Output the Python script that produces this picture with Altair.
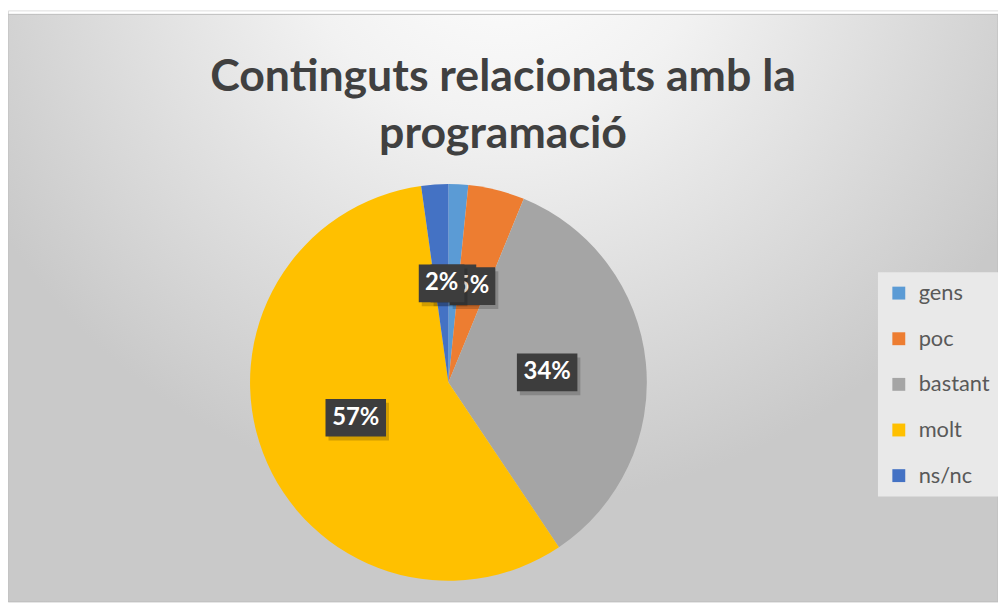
import math
import altair as alt
import pandas as pd

categories = ["gens", "poc", "bastant", "molt", "ns/nc"]
values = [1.6, 4.6, 34.4, 57.2, 2.2]
labels = ["2%", "5%", "34%", "57%", "2%"]
colors = ["#5B9BD5", "#ED7D31", "#A5A5A5", "#FFC000", "#4472C4"]
title_lines = ["Continguts relacionats amb la", "programació"]

df = pd.DataFrame({
    "cat": categories,
    "value": values,
    "label": labels,
    "idx": list(range(len(categories))),
})
total = float(sum(values))

W, H = 998, 596
CX, CY = 444, 375
R = 200
LR = 100
BOX_H = 38

theta_scale = alt.Scale(domain=[0, total], range=[0, 2 * math.pi])

base = alt.Chart(df).transform_stack(
    stack="value", as_=["v0", "v1"], groupby=[],
    sort=[alt.SortField("idx", order="ascending")]
).transform_calculate(
    mid="(datum.v0 + datum.v1) / 2",
).transform_calculate(
    ang=f"2 * PI * datum.mid / {total}",
).transform_calculate(
    px=f"{CX} + {LR} * sin(datum.ang)",
    py=f"{CY} - {LR} * cos(datum.ang)",
)

bg = alt.Chart(pd.DataFrame({"k": [0]})).mark_rect(
    fill=alt.RadialGradient(
        gradient="radial",
        stops=[alt.GradientStop(color="#ffffff", offset=0),
               alt.GradientStop(color="#f2f2f2", offset=0.35),
               alt.GradientStop(color="#c9c9c9", offset=1)],
        x1=0.5, y1=0.1, r1=0, x2=0.5, y2=0.1, r2=0.6),
    stroke="#bdbdbd", strokeWidth=1,
).encode(x=alt.value(0), x2=alt.value(W), y=alt.value(4), y2=alt.value(H))

pie = base.mark_arc(outerRadius=R).encode(
    theta=alt.Theta("v0:Q", scale=theta_scale),
    theta2="v1:Q",
    color=alt.Color(
        "cat:N",
        scale=alt.Scale(domain=categories, range=colors),
        legend=alt.Legend(
            title=None, orient="none", legendX=877, legendY=264,
            symbolType="square", symbolSize=169, symbolStrokeWidth=0,
            labelFontSize=22, labelFont="Lato", labelColor="#595959",
            rowPadding=24, fillColor="#e9e9e9", padding=10, labelOffset=9,
        ),
    ),
    order=alt.Order("idx:Q"),
    x=alt.value(CX), y=alt.value(CY),
)

layers = [bg, pie]
for i, lab in enumerate(labels):
    sub = base.transform_filter(f"datum.idx == {i}")
    ratio = (16 + 15 * len(lab)) / BOX_H
    shape = f"M{-ratio:.3f},-1L{ratio:.3f},-1L{ratio:.3f},1L{-ratio:.3f},1Z"
    shadow = sub.mark_point(
        shape=shape, size=BOX_H * BOX_H, filled=True, color="#000000",
        opacity=0.18, strokeWidth=0, xOffset=3, yOffset=4,
    ).encode(x=alt.X("px:Q", scale=None), y=alt.Y("py:Q", scale=None))
    box = sub.mark_point(
        shape=shape, size=BOX_H * BOX_H, filled=True, color="#3d3d3d",
        opacity=1, strokeWidth=0,
    ).encode(x=alt.X("px:Q", scale=None), y=alt.Y("py:Q", scale=None))
    txt = sub.mark_text(
        radius=LR, font="Lato", fontSize=24, fontWeight="bold", color="white",
        baseline="middle", align="center",
    ).encode(
        theta=alt.Theta("mid:Q", scale=theta_scale),
        text="label:N",
        x=alt.value(CX), y=alt.value(CY),
    )
    layers += [shadow, box, txt]

chart = alt.layer(*layers).properties(
    width=W, height=H,
    autosize=alt.AutoSizeParams(type="none"),
    padding=0,
    title=alt.TitleParams(
        text=title_lines, fontSize=45, font="Lato", fontWeight="bold",
        color="#404040", anchor="middle", lineHeight=58, dy=152,
    ),
).configure_view(stroke=None).configure(background="white")

chart.save("out.html", embed_options={"renderer": "svg", "actions": False})
